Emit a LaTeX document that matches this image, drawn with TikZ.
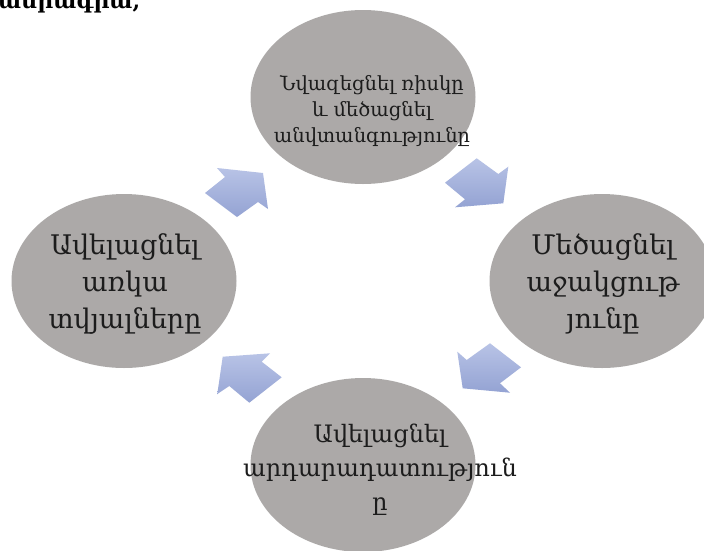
\documentclass[tikz,border=0pt]{standalone}
\usepackage{fontspec}
\setmainfont{DejaVu Serif}
\usetikzlibrary{shapes.geometric}
\definecolor{ellgray}{RGB}{172,169,168}
\definecolor{arrtop}{RGB}{184,195,230}
\definecolor{arrbot}{RGB}{148,163,211}
\definecolor{txt}{RGB}{28,28,28}
\tikzset{
  cyc/.style={ellipse, fill=ellgray, draw=none, minimum width=225pt, minimum height=174pt, inner sep=0pt},
  bigtxt/.style={align=center, text=txt, font=\fontsize{27}{37}\selectfont, inner sep=0pt},
  midtxt/.style={align=center, text=txt, font=\fontsize{24}{34}\selectfont, inner sep=0pt},
  smalltxt/.style={align=center, text=txt, font=\fontsize{19.5}{26}\selectfont, inner sep=0pt},
  blockarrow/.style={top color=arrtop, bottom color=arrbot, draw=none}
}
\begin{document}
\begin{tikzpicture}[x=1pt,y=-1pt]
\useasboundingbox (0,0) rectangle (704,550);
\clip (0,0) rectangle (704,550);
\fill[white] (0,0) rectangle (704,550);
% title fragment cut at the top
\node[anchor=base west, inner sep=0pt, text=black, font=\bfseries\fontsize{22}{22}\selectfont] (title) at (-2,8) {ամրագրա,};
% ellipses
\node[cyc] (top) at (363,97) {};
\node[cyc] (right) at (602,281) {};
\node[cyc] (bottom) at (363,465) {};
\node[cyc] (left) at (124,281) {};
% texts
\node[smalltxt] (toptxt) at (372,111) {Նվազեցնել ռիսկը\\և մեծացնել\\անվտանգությունը};
\node[bigtxt] (righttxt) at (603,284) {Մեծացնել\\աջակցութ\\յունը};
\node[bigtxt] (lefttxt) at (125,284) {Ավելացնել\\առկա\\տվյալները};
\node[midtxt] (bottomtxt) at (380,470) {Ավելացնել\\արդարադատություն\\ը};
% arrows
\shade[blockarrow] (217,168) -- (263,173) -- (268,209) -- (258,202) -- (237,217) -- (205,193) -- (225,177) -- cycle;
\shade[blockarrow] (476.7,158.3) -- (498.3,174) -- (508.3,166.7) -- (503.3,203.3) -- (455,207.3) -- (465,199.3) -- (445,182.7) -- cycle;
\shade[blockarrow] (490,343.3) -- (521,367.3) -- (500,383.3) -- (510,392.7) -- (462.7,388.3) -- (457.3,351.7) -- (466.7,360) -- cycle;
\shade[blockarrow] (270,353.3) -- (261.7,361.7) -- (281.7,377.3) -- (249.3,402.7) -- (229.3,386) -- (217.3,394) -- (222.7,356.7) -- cycle;
\end{tikzpicture}
\end{document}
